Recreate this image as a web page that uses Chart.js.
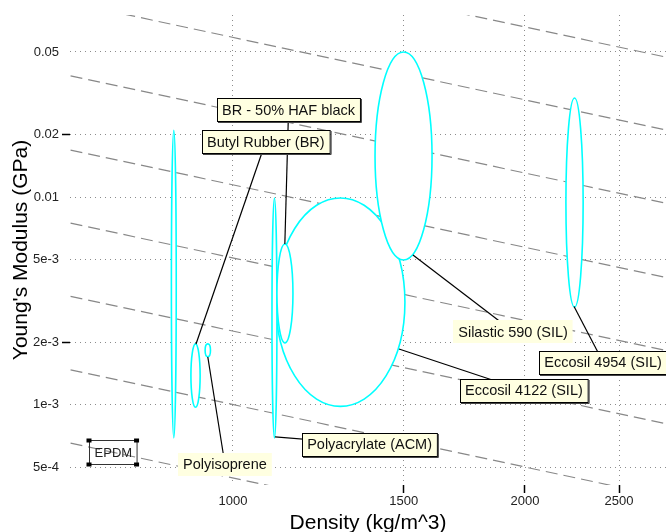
<!DOCTYPE html>
<html>
<head>
<meta charset="utf-8">
<title>Young's Modulus vs Density</title>
<script src="https://cdn.jsdelivr.net/npm/chart.js@4.4.1/dist/chart.umd.min.js"></script>
<style>
  html, body { margin: 0; padding: 0; background: #fff; overflow: hidden; }
</style>
</head>
<body>
<canvas id="chart" width="666" height="532"></canvas>
<script>
// material bubbles: density range (kg/m^3) and modulus range (GPa)
const materials = ['EPDM', 'Butyl Rubber (BR)', 'Polyisoprene', 'Eccosil 4122 (SIL)',
                   'Polyacrylate (ACM)', 'BR - 50% HAF black', 'Silastic 590 (SIL)', 'Eccosil 4954 (SIL)'];
const densityMin = [864, 905, 936, 1107, 1097, 1110, 1401, 2204];
const densityMax = [874, 925, 948, 1504, 1110, 1153, 1604, 2296];
const modulusMin = [6.9e-4, 9.7e-4, 1.7e-3, 9.8e-4, 6.9e-4, 1.98e-3, 4.97e-3, 2.95e-3];
const modulusMax = [0.021, 1.96e-3, 1.96e-3, 9.9e-3, 9.9e-3, 5.94e-3, 0.05, 0.030];

// dashed guide lines, E * rho = const
const guideLevels = [0.443, 1.0, 2.26, 5.09, 11.45, 26.1, 58.8, 132];

// axes
const xTicks = [1000, 1500, 2000, 2500];
const xTickLabels = ['1000', '1500', '2000', '2500'];
const yTicks = [0.05, 0.02, 0.01, 5e-3, 2e-3, 1e-3, 5e-4];
const yTickLabels = ['0.05', '0.02', '0.01', '5e-3', '2e-3', '1e-3', '5e-4'];
const xRange = [679.2, 2795];
const yRange = [4.096e-4, 0.07538];

// label boxes (position and leader anchor in data units)
const callouts = [
  { text: 'EPDM', at: [751, 5.9e-4], anchor: null, style: 'handles' },
  { text: 'BR - 50% HAF black', at: [1141, 0.02627], anchor: [1131, 5.94e-3], style: 'box' },
  { text: 'Butyl Rubber (BR)', at: [1081, 0.01852], anchor: [916, 1.958e-3], style: 'box' },
  { text: 'Polyisoprene', at: [981, 5.17e-4], anchor: [942, 1.695e-3], style: 'plain' },
  { text: 'Polyacrylate (ACM)', at: [1383, 6.42e-4], anchor: [1105, 6.98e-4], style: 'box' },
  { text: 'Silastic 590 (SIL)', at: [1944, 2.249e-3], anchor: [1533, 5.26e-3], style: 'plain' },
  { text: 'Eccosil 4122 (SIL)', at: [1995, 1.169e-3], anchor: [1483, 1.852e-3], style: 'box' },
  { text: 'Eccosil 4954 (SIL)', at: [2407, 1.603e-3], anchor: [2247, 2.97e-3], style: 'box' }
];

Chart.defaults.font.family = '"Liberation Sans", Arial, Helvetica, sans-serif';
Chart.defaults.color = '#222';

// ellipses, leaders and labels on top of the grid
const bubblePlugin = {
  id: 'bubbles',
  afterDatasetsDraw(chart) {
    const { ctx, chartArea, scales: { x, y } } = chart;
    ctx.save();
    ctx.beginPath();
    ctx.rect(chartArea.left, chartArea.top, chartArea.width, chartArea.height);
    ctx.clip();
    materials.forEach((name, i) => {
      const x0 = x.getPixelForValue(densityMin[i]);
      const x1 = x.getPixelForValue(densityMax[i]);
      const y0 = y.getPixelForValue(modulusMax[i]);
      const y1 = y.getPixelForValue(modulusMin[i]);
      ctx.beginPath();
      ctx.ellipse((x0 + x1) / 2, (y0 + y1) / 2, (x1 - x0) / 2, (y1 - y0) / 2, 0, 0, Math.PI * 2);
      ctx.fillStyle = '#fff';
      ctx.fill();
      ctx.strokeStyle = '#00ffff';
      ctx.lineWidth = 1.6;
      ctx.stroke();
    });
    ctx.restore();

    ctx.save();
    // leaders first, boxes cover them
    ctx.strokeStyle = '#000';
    ctx.lineWidth = 1.2;
    callouts.forEach(c => {
      if (!c.anchor) return;
      ctx.beginPath();
      ctx.moveTo(x.getPixelForValue(c.anchor[0]), y.getPixelForValue(c.anchor[1]));
      ctx.lineTo(x.getPixelForValue(c.at[0]), y.getPixelForValue(c.at[1]));
      ctx.stroke();
    });

    callouts.forEach(c => {
      const cx = x.getPixelForValue(c.at[0]);
      const cy = y.getPixelForValue(c.at[1]);
      if (c.style === 'handles') {
        ctx.font = '13px "Liberation Sans", Arial, sans-serif';
        const w = ctx.measureText(c.text).width + 10;
        const h = 24;
        const l = Math.round(cx - w / 2) + 0.5, t = Math.round(cy - h / 2) + 0.5;
        ctx.strokeStyle = '#333';
        ctx.lineWidth = 1;
        ctx.strokeRect(l, t, w, h);
        ctx.fillStyle = '#000';
        [[l, t], [l + w, t], [l, t + h], [l + w, t + h]].forEach(p => {
          ctx.fillRect(p[0] - 3, p[1] - 2, 5, 4);
        });
        ctx.fillStyle = '#222';
        ctx.textAlign = 'center';
        ctx.textBaseline = 'middle';
        ctx.fillText(c.text, cx + 1, cy + 1);
        return;
      }
      ctx.font = '14.5px "Liberation Sans", Arial, sans-serif';
      const w = ctx.measureText(c.text).width + 10;
      const h = 23;
      const l = Math.round(cx - w / 2), t = Math.round(cy - h / 2);
      ctx.fillStyle = '#ffffe1';
      ctx.fillRect(l, t, w, h);
      if (c.style === 'box') {
        ctx.strokeStyle = '#000';
        ctx.lineWidth = 1;
        ctx.strokeRect(l + 0.5, t + 0.5, w, h);
        ctx.strokeStyle = '#444';
        ctx.beginPath();
        ctx.moveTo(l + w + 1.5, t + 1);
        ctx.lineTo(l + w + 1.5, t + h + 1.5);
        ctx.lineTo(l + 1, t + h + 1.5);
        ctx.stroke();
      }
      ctx.fillStyle = '#111';
      ctx.textAlign = 'center';
      ctx.textBaseline = 'middle';
      ctx.fillText(c.text, cx, cy + 1);
    });
    ctx.restore();
  }
};

new Chart(document.getElementById('chart'), {
  type: 'scatter',
  data: {
    datasets: guideLevels.map(level => ({
      data: [{ x: 600, y: level / 600 }, { x: 3000, y: level / 3000 }],
      showLine: true,
      borderColor: '#888',
      borderWidth: 1.2,
      borderDash: [12, 6],
      pointRadius: 0
    }))
  },
  options: {
    responsive: false,
    animation: false,
    events: [],
    layout: { padding: { top: 15, left: 0, right: 0, bottom: 0 } },
    plugins: { legend: { display: false }, tooltip: { enabled: false } },
    scales: {
      x: {
        type: 'logarithmic',
        min: xRange[0],
        max: xRange[1],
        afterBuildTicks: axis => { axis.ticks = xTicks.map(v => ({ value: v })); },
        afterFit: axis => { axis.height = 47; },
        ticks: {
          autoSkip: false,
          maxRotation: 0,
          padding: 1,
          font: { size: 13 },
          color: '#222',
          callback: value => xTickLabels[xTicks.indexOf(value)]
        },
        grid: {
          color: '#8c8c8c',
          lineWidth: 1,
          tickLength: 8,
          tickWidth: 1.5,
          tickColor: ctx => (ctx.tick && ctx.tick.value === 1000 ? 'rgba(0,0,0,0)' : '#000')
        },
        border: { display: false, dash: [1, 4] },
        title: {
          display: true,
          text: 'Density (kg/m^3)',
          color: '#000',
          font: { size: 21, lineHeight: 1 },
          padding: { top: 0, bottom: -1.5 }
        }
      },
      y: {
        type: 'logarithmic',
        min: yRange[0],
        max: yRange[1],
        afterBuildTicks: axis => { axis.ticks = yTicks.map(v => ({ value: v })); },
        afterFit: axis => { axis.width = 70; },
        ticks: {
          autoSkip: false,
          padding: 3,
          font: { size: 13 },
          color: '#222',
          callback: value => yTickLabels[yTicks.indexOf(value)]
        },
        grid: {
          color: '#8c8c8c',
          lineWidth: 1,
          tickLength: 8,
          tickWidth: 1.5,
          tickColor: ctx => (ctx.tick && (ctx.tick.value === 0.02 || ctx.tick.value === 2e-3) ? '#000' : 'rgba(0,0,0,0)')
        },
        border: { display: false, dash: [1, 4] },
        title: {
          display: true,
          text: "Young's Modulus (GPa)",
          color: '#000',
          font: { size: 21, lineHeight: 1 },
          padding: { top: 10.5, bottom: 0 }
        }
      }
    }
  },
  plugins: [bubblePlugin]
});
</script>
</body>
</html>
